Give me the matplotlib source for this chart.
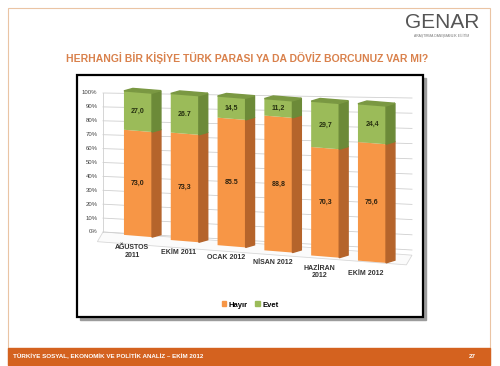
import numpy as np
import matplotlib
matplotlib.use("Agg")
import matplotlib.pyplot as plt
from matplotlib.patches import Rectangle, Patch
from matplotlib.transforms import Affine2D

# data
categories = ["AĞUSTOS\n2011", "EKİM 2011", "OCAK 2012", "NİSAN 2012", "HAZİRAN\n2012", "EKİM 2012"]
hayir = [73.0, 73.3, 85.5, 88.8, 70.3, 75.6]
evet = [27.0, 26.7, 14.5, 11.2, 29.7, 24.4]
hayir_labels = ["73,0", "73,3", "85.5", "88,8", "70,3", "75,6"]
evet_labels = ["27,0", "26.7", "14,5", "11,2", "29,7", "24,4"]
yticks = list(range(0, 101, 10))

title = "HERHANGİ BİR KİŞİYE TÜRK PARASI YA DA DÖVİZ BORCUNUZ VAR MI?"
footer = "TÜRKİYE SOSYAL, EKONOMİK VE POLİTİK ANALİZ – EKİM 2012"

orange, orange_side = "#F79646", "#B5642B"
green, green_side, green_top = "#9BBB59", "#6C8A38", "#7A9842"

W, H = 500, 366
plt.rcParams["font.family"] = ["Liberation Sans", "DejaVu Sans"]
fig = plt.figure(figsize=(5, 3.66), dpi=100, facecolor="white")


def box(x0, y0, x1, y1, **kw):  # slide pixels (top-left origin) -> figure rectangle
    fig.add_artist(Rectangle((x0 / W, 1 - y1 / H), (x1 - x0) / W, (y1 - y0) / H,
                             transform=fig.transFigure, **kw))


# slide decoration
box(8, 8, 490, 365, fill=False, edgecolor="#EAC4A4", lw=0.8)
box(8, 348, 490, 365, color="#D4621F")
fig.text(13 / W, 1 - 356.5 / H, footer, color="white", fontsize=4.5, fontweight="bold", va="center")
fig.text(476 / W, 1 - 356.5 / H, "27", color="white", fontsize=4.5, fontweight="bold", va="center", ha="right")
fig.text(442 / W, 1 - 22 / H, "GENAR", ha="center", va="center", fontsize=15, color="#555555")
fig.text(442 / W, 1 - 35.5 / H, "ARAŞTIRMA DANIŞMANLIK EĞİTİM", ha="center", va="center", fontsize=2.4, color="#777777")
fig.text(247 / W, 1 - 58 / H, title, ha="center", va="center", fontsize=7.5, fontweight="bold", color="#D9814C")

# chart frame with shadow
box(80, 78, 426, 320, color="#9c9c9c")
box(77, 75, 423, 317, facecolor="white", edgecolor="black", lw=1.6)

# axes: category centres 46.8 px apart, 0..100 % over 144 px
ax = fig.add_axes([114.6 / W, 130 / H, 280.8 / W, 144 / H])
ax.set_zorder(2)
ax.set_xlim(-0.5, 5.5)
ax.set_ylim(0, 100)
ax.set_autoscale_on(False)
ax.axis("off")

X0 = ax.transData.transform((0, 0))[0]


def skew_tf(xa, va, slope, sy=1.0, dy=0.0):
    # fake 3d: shear/scale around an anchor point in display space
    px, py = ax.transData.transform((xa, va))
    return ax.transData + Affine2D().translate(-px, -py).scale(1, sy) \
        .skew(0, -np.arctan(slope)).translate(px, py + dy)


# back wall
XL, XR = (103 - 138) / 46.8, (412 - 138) / 46.8


def wall_tf(v):
    return skew_tf(XL, v, (18 - 0.13 * v) / 309, dy=4 - 0.05 * v)


ax.fill([XL, XR, XR - 0.12, XL - 0.12], [0, 0, -7, -7], facecolor="#fbfbfb", edgecolor="#d8d8d8",
        lw=0.6, transform=skew_tf(XL, 0, 0.075, dy=4), clip_on=False, zorder=1)
for v in yticks:
    ax.plot([XL, XR], [v, v], color="#cfcfcf", lw=0.6, transform=wall_tf(v), clip_on=False, zorder=1)
    ax.annotate(f"{v}%", xy=(XL, v), xycoords=wall_tf(v), xytext=(-4, 0), textcoords="offset points",
                ha="right", va="center", fontsize=4.3, color="#404040")
ax.plot([XL, XL], [0, 100], color="#cfcfcf", lw=0.6, transform=skew_tf(XL, 0, 0, sy=139 / 144, dy=4),
        clip_on=False, zorder=1)

# bars
w, dx, dz = 0.6, 0.19, 2.2
for i in range(len(categories)):
    d = ax.transData.transform((i, 0))[0] - X0
    tf = skew_tf(i, 0, 0.08, sy=(144 + 0.055 * d) / 144, dy=-0.11 * d)
    r = i + w / 2
    ax.bar(i, hayir[i], w, color=orange, transform=tf, clip_on=False, zorder=3)
    ax.bar(i, evet[i], w, bottom=hayir[i], color=green, transform=tf, clip_on=False, zorder=3)
    ax.fill([r, r + dx, r + dx, r], [0, dz, hayir[i] + dz, hayir[i]], color=orange_side,
            transform=tf, clip_on=False, zorder=3)
    ax.fill([r, r + dx, r + dx, r], [hayir[i], hayir[i] + dz, 100 + dz, 100], color=green_side,
            transform=tf, clip_on=False, zorder=3)
    ax.fill([i - w / 2, i - w / 2 + dx, r + dx, r], [100, 100 + dz, 100 + dz, 100], color=green_top,
            transform=tf, clip_on=False, zorder=3)
    ax.text(i, hayir[i] / 2, hayir_labels[i], transform=tf, ha="center", va="center",
            fontsize=5, fontweight="bold", color="#2e2210", zorder=5)
    ax.text(i, hayir[i] + evet[i] / 2, evet_labels[i], transform=tf, ha="center", va="center",
            fontsize=5, fontweight="bold", color="#263010", zorder=5)
    ax.annotate(categories[i], xy=(i, 0), xycoords=tf, xytext=(-4.3, -5.8), textcoords="offset points",
                ha="center", va="top", fontsize=5, fontweight="bold", color="#333333",
                multialignment="center", linespacing=1.1)

handles = [Patch(color=orange, label="Hayır"), Patch(color=green, label="Evet")]
fig.legend(handles=handles, loc="center", bbox_to_anchor=(250 / W, 1 - 305 / H), ncol=2, frameon=False,
           prop={"size": 5.5, "weight": "bold"}, handlelength=0.6, handleheight=0.6,
           handletextpad=0.3, columnspacing=1.0)

fig.savefig("out.png", dpi=100)
